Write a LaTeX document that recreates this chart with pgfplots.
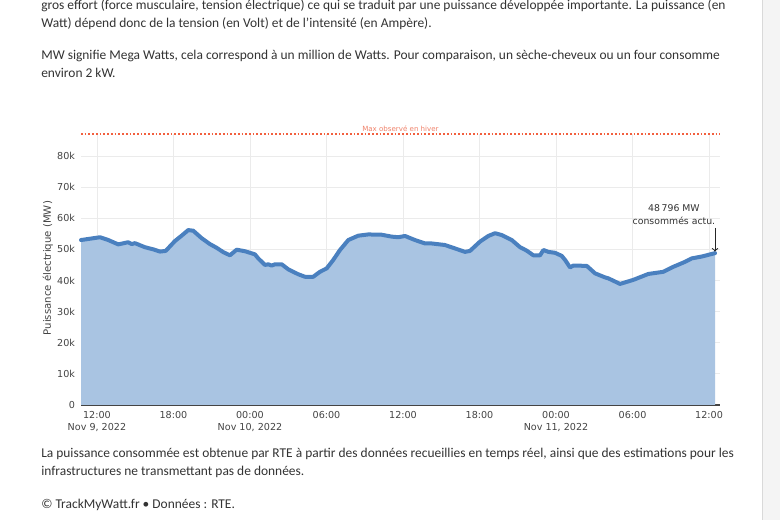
\documentclass[border=0pt]{standalone}
\usepackage{fontspec}
\setmainfont{Carlito}
\newfontfamily\chartfont{DejaVu Sans}
\usepackage{pgfplots}
\pgfplotsset{compat=1.18}
\definecolor{txt}{HTML}{333333}
\definecolor{tickc}{HTML}{444444}
\definecolor{fillc}{HTML}{A9C4E2}
\definecolor{linec}{HTML}{4A80BF}
\definecolor{gridc}{HTML}{EBEBEB}
\definecolor{maxc}{HTML}{F0826A}
\definecolor{maxline}{HTML}{F2603F}
\definecolor{side}{HTML}{F4F4F4}
\pgfplotstableread{
h mw
10.75 53000
12.24 53900
12.89 53000
13.67 51600
14.45 52300
14.72 51700
14.98 52000
15.76 50700
16.42 50000
16.94 49300
17.39 49500
18.12 52700
18.64 54400
19.16 56200
19.55 56000
20.21 53600
20.86 51700
21.39 50500
21.91 49100
22.43 48100
22.96 49900
23.61 49400
24.39 48400
24.65 47100
25.18 45000
25.44 45200
25.70 44800
25.96 45200
26.49 45200
27.00 43600
27.79 42000
28.31 41200
28.96 41200
29.49 42800
30.02 43900
30.53 46600
31.06 49800
31.71 53000
32.49 54400
33.28 54800
34.33 54700
35.11 54100
35.63 53900
36.16 54300
36.94 53000
37.73 51900
38.25 51900
39.29 51400
40.08 50300
40.86 49200
41.25 49500
42.04 52500
42.69 54300
43.22 55200
43.74 54600
44.53 53000
45.18 50700
45.70 49600
46.22 48100
46.75 48100
47.01 49800
47.40 49200
47.92 48900
48.45 47900
48.71 46600
49.10 44200
49.36 44800
50.41 44700
51.06 42300
51.84 41000
52.10 40700
53.02 38900
54.06 40200
55.24 42100
56.42 42800
57.20 44400
58.12 46000
58.64 47100
59.43 47700
60.47 48796
}\datatable
\begin{document}
\begin{tikzpicture}[x=0.75pt,y=0.75pt]
\path[use as bounding box, fill=white] (0,0) rectangle (780,520);
\fill[side] (762,0) rectangle (780,520);
\draw[black!15, line width=0.75pt] (762,0) -- (762,520);
\begin{scope}[every node/.style={inner sep=0pt, anchor=base west, text=txt, font=\fontsize{10.08}{12}\selectfont}]
\node at (41,510) {gros effort (force musculaire, tension électrique) ce qui se traduit par une puissance développée importante. La puissance (en};
\node at (41,492) {Watt) dépend donc de la tension (en Volt) et de l’intensité (en Ampère).};
\node at (41,460) {MW signifie Mega Watts, cela correspond à un million de Watts. Pour comparaison, un sèche-cheveux ou un four consomme};
\node at (41,442) {environ 2 kW.};
\node at (41,62) {La puissance consommée est obtenue par RTE à partir des données recueillies en temps réel, ainsi que des estimations pour les};
\node at (41,44) {infrastructures ne transmettant pas de données.};
\node at (41,12) {© TrackMyWatt.fr • Données : RTE.};
\end{scope}
\begin{axis}[
  at={(60.75pt,86.25pt)}, anchor=south west, scale only axis,
  width=479.25pt, height=203.25pt,
  xmin=10.75, xmax=60.86, ymin=0, ymax=87070,
  axis lines*=left, separate axis lines,
  y axis line style={draw=none},
  x axis line style={draw=tickc, line width=0.8pt},
  major tick length=0pt,
  xtick={12,18,24,30,36,42,48,54,60},
  xticklabels={{12:00\\Nov 9, 2022},18:00,{00:00\\Nov 10, 2022},06:00,12:00,18:00,{00:00\\Nov 11, 2022},06:00,12:00},
  ytick={0,10000,20000,30000,40000,50000,60000,70000,80000},
  yticklabels={0,10k,20k,30k,40k,50k,60k,70k,80k},
  scaled y ticks=false,
  grid=major, major grid style={gridc, line width=0.6pt},
  tick label style={font=\chartfont\fontsize{7.2}{9.5}\selectfont, text=tickc},
  xticklabel style={align=center, yshift=-1pt},
  yticklabel style={xshift=-1pt},
  ylabel={Puissance électrique (MW)},
  ylabel style={at={(axis description cs:-0.052,0.505)}, anchor=center, font=\chartfont\fontsize{7.6}{9}\selectfont, text=tickc},
  clip=false,
]
\addplot[draw=none, fill=fillc] table[x=h,y=mw] {\datatable} \closedcycle;
\addplot[linec, line width=3pt, line join=round, line cap=round] table[x=h,y=mw] {\datatable};
\draw[maxline, line width=0.9pt, dash pattern=on 1.3pt off 1.5pt] (axis cs:10.75,87070) -- (axis cs:60.86,87070);
\node[maxc, anchor=base, inner sep=0pt, font=\chartfont\fontsize{5.3}{6}\selectfont] at (axis cs:35.8,87800) {Max observé en hiver};
\node[align=center, inner sep=0pt, text=black!80, font=\chartfont\fontsize{7}{9.7}\selectfont] at (axis cs:57.25,61200) {48\,796 MW\\consommés actu.};
\draw[black!85, line width=0.8pt, ->] (axis cs:60.47,56900) -- (axis cs:60.47,49300);
\end{axis}
\end{tikzpicture}
\end{document}
